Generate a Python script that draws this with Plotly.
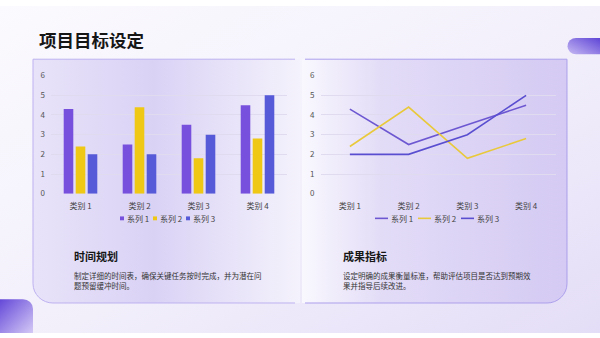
import base64
import plotly.graph_objects as go

# ---------------- data ----------------
categories = ["类别 1", "类别 2", "类别 3", "类别 4"]
series_names = ["系列 1", "系列 2", "系列 3"]
series1 = [4.3, 2.5, 3.5, 4.5]
series2 = [2.4, 4.4, 1.8, 2.8]
series3 = [2.0, 2.0, 3.0, 5.0]
y_ticks = [0, 1, 2, 3, 4, 5, 6]

title_text = "项目目标设定"
left_head = "时间规划"
left_desc = "制定详细的时间表，确保关键任务按时完成，并为潜在问<br>题预留缓冲时间。"
right_head = "成果指标"
right_desc = "设定明确的成果衡量标准，帮助评估项目是否达到预期效<br>果并指导后续改进。"

# ---------------- style ----------------
W, H = 600, 338
FONT = "Noto Sans CJK SC"
bar_colors = ["#7750de", "#eec814", "#5659d8"]
line_colors = ["#6e58d2", "#e9c93c", "#5a4ed0"]


def px(x):
    return x / W


def py(y):
    return 1 - y / H


svg = f"""<svg xmlns='http://www.w3.org/2000/svg' width='{W}' height='{H}' viewBox='0 0 {W} {H}'>
<defs>
<linearGradient id='pg' x1='0' y1='0' x2='1' y2='1'>
<stop offset='0' stop-color='#fbfafe'/><stop offset='0.55' stop-color='#f2effb'/><stop offset='1' stop-color='#e4ddf7'/>
</linearGradient>
<linearGradient id='lc' x1='0' y1='0' x2='1' y2='0'>
<stop offset='0' stop-color='#e8e3f9'/><stop offset='0.45' stop-color='#dad2f5'/><stop offset='1' stop-color='#f4f2fc'/>
</linearGradient>
<linearGradient id='rc' x1='0' y1='0' x2='1' y2='0'>
<stop offset='0' stop-color='#f9f8fe'/><stop offset='0.3' stop-color='#e3dcf7'/><stop offset='1' stop-color='#d4caf3'/>
</linearGradient>
<linearGradient id='d1' x1='1' y1='0' x2='0' y2='1'>
<stop offset='0' stop-color='#5f45d6'/><stop offset='1' stop-color='#c6b9f3'/>
</linearGradient>
<linearGradient id='d2' x1='0' y1='0' x2='1' y2='1'>
<stop offset='0' stop-color='#6448d8'/><stop offset='1' stop-color='#d4c9f6'/>
</linearGradient>
</defs>
<rect width='{W}' height='{H}' fill='url(#pg)'/>
<path d='M33,55 H300 V307 H53 A20,20 0 0 1 33,287 Z' fill='url(#lc)'/>
<path d='M295,55 H33 V287 A20,20 0 0 0 53,307 H295' fill='none' stroke='#bdb0f0' stroke-width='1'/>
<path d='M302,55 H567 V287 A20,20 0 0 1 547,307 H302 Z' fill='url(#rc)'/>
<path d='M305,55 H567 V287 A20,20 0 0 1 547,307 H305' fill='none' stroke='#ab9eec' stroke-width='1'/>
<path d='M576,33 H600 V50 H576 A8.5,8.5 0 0 1 567.5,41.5 A8.5,8.5 0 0 1 576,33 Z' fill='url(#d1)'/>
<path d='M0,303 H23 A10,10 0 0 1 33,313 V338 H0 Z' fill='url(#d2)'/>
</svg>"""
bg_uri = "data:image/svg+xml;base64," + base64.b64encode(svg.encode("utf-8")).decode("ascii")

fig = go.Figure()

# bar chart (left)
for name, vals, col in zip(series_names, [series1, series2, series3], bar_colors):
    fig.add_trace(go.Bar(x=categories, y=vals, name=name, marker=dict(color=col, line=dict(width=0)),
                         xaxis="x", yaxis="y", showlegend=False))

# line chart (right)
for name, vals, col in zip(series_names, [series1, series2, series3], line_colors):
    fig.add_trace(go.Scatter(x=categories, y=vals, name=name, mode="lines",
                             line=dict(color=col, width=1.6),
                             xaxis="x2", yaxis="y2", showlegend=False))

ydom = [py(194), py(72)]
axis_common_y = dict(range=[0, 6], tickvals=y_ticks, showgrid=True, gridcolor="#e0dbef", gridwidth=1,
                     zeroline=False, showline=False, ticks="", ticklabelstandoff=5,
                     tickfont=dict(family=FONT, size=8, color="#555555"), fixedrange=True, domain=ydom)
axis_common_x = dict(type="category", range=[-0.5, 3.5], showgrid=False, zeroline=False, showline=False,
                     ticks="", ticklabelstandoff=6, tickfont=dict(family=FONT, size=8, color="#444444"),
                     fixedrange=True)

fig.update_layout(
    width=W, height=H, margin=dict(l=0, r=0, t=0, b=0),
    paper_bgcolor="rgba(0,0,0,0)", plot_bgcolor="rgba(0,0,0,0)",
    bargap=0.39, bargroupgap=0.2, barmode="group",
    xaxis=dict(domain=[px(51), px(287)], anchor="y", **axis_common_x),
    yaxis=dict(anchor="x", **axis_common_y),
    xaxis2=dict(domain=[px(320.5), px(555.5)], anchor="y2", **axis_common_x),
    yaxis2=dict(anchor="x2", **axis_common_y),
    images=[dict(source=bg_uri, xref="paper", yref="paper", x=0, y=1, sizex=1, sizey=1,
                 xanchor="left", yanchor="top", sizing="stretch", layer="below")],
)

annotations = []
shapes = []

# custom legends
leg_y = 219.5
left_leg_x = [120, 153, 186]
for xs, name, col in zip(left_leg_x, series_names, bar_colors):
    shapes.append(dict(type="rect", xref="paper", yref="paper", x0=px(xs), x1=px(xs + 4),
                       y0=py(leg_y + 2), y1=py(leg_y - 2), fillcolor=col, line=dict(width=0)))
    annotations.append(dict(text=name, x=px(xs + 4.5), y=py(leg_y), xref="paper", yref="paper",
                            xanchor="left", yanchor="middle", showarrow=False,
                            font=dict(family=FONT, size=8, color="#444444")))
right_leg_x = [375, 418, 461]
for xs, name, col in zip(right_leg_x, series_names, line_colors):
    shapes.append(dict(type="line", xref="paper", yref="paper", x0=px(xs), x1=px(xs + 13),
                       y0=py(leg_y), y1=py(leg_y), line=dict(color=col, width=1.6)))
    annotations.append(dict(text=name, x=px(xs + 13.5), y=py(leg_y), xref="paper", yref="paper",
                            xanchor="left", yanchor="middle", showarrow=False,
                            font=dict(family=FONT, size=8, color="#444444")))

# titles and texts
annotations.append(dict(text=title_text, x=px(36.5), y=py(35), xref="paper", yref="paper",
                        xanchor="left", yanchor="middle", showarrow=False,
                        font=dict(family=FONT, size=17.5, color="#161616", weight=700)))
for hx, head, desc in [(71.5, left_head, left_desc), (340.5, right_head, right_desc)]:
    annotations.append(dict(text=head, x=px(hx), y=py(258.5), xref="paper", yref="paper",
                            xanchor="left", yanchor="middle", showarrow=False,
                            font=dict(family=FONT, size=11, color="#161616", weight=700)))
    annotations.append(dict(text=desc, x=px(hx), y=py(271), xref="paper", yref="paper",
                            xanchor="left", yanchor="top", align="left", showarrow=False,
                            font=dict(family=FONT, size=7.5, color="#333333")))

fig.update_layout(annotations=annotations, shapes=shapes)

fig.write_html("out.html")
